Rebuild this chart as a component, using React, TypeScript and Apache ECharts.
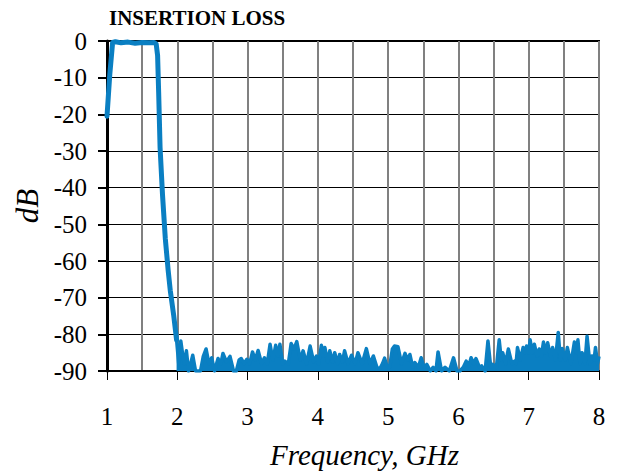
import React, { useEffect, useRef } from "react";
import * as echarts from "echarts";

const titleText = "INSERTION LOSS";
const xName = "Frequency, GHz";
const yName = "dB";

// Passband and roll-off (frequency in GHz, loss in dB)
const passFreq = [1.0, 1.04, 1.08, 1.12, 1.2, 1.3, 1.4, 1.5, 1.6, 1.67, 1.7, 1.72, 1.735, 1.755, 1.79, 1.83, 1.87, 1.9, 1.95, 1.99];
const passDb = [-20.5, -9, -0.4, -0.2, -0.5, -0.3, -0.6, -0.4, -0.5, -0.4, -0.8, -4, -14, -29, -42, -54, -62.5, -68, -75, -81.5];

// Stopband noise floor envelope
const noiseFreq = [
  1.99, 2.02, 2.05, 2.08, 2.1, 2.13, 2.16, 2.19, 2.22, 2.26, 2.33, 2.37, 2.41, 2.45, 2.49, 2.53, 2.58, 2.62, 2.65, 2.7,
  2.75, 2.8, 2.84, 2.88, 2.91, 2.95, 2.99, 3.03, 3.07, 3.11, 3.15, 3.2, 3.24, 3.28, 3.32, 3.36, 3.4, 3.43, 3.46, 3.5,
  3.53, 3.58, 3.62, 3.66, 3.7, 3.75, 3.79, 3.84, 3.89, 3.94, 3.98, 4.01, 4.05, 4.08, 4.1, 4.14, 4.17, 4.21, 4.24, 4.28,
  4.31, 4.35, 4.38, 4.43, 4.48, 4.53, 4.57, 4.63, 4.69, 4.74, 4.79, 4.84, 4.88, 4.92, 4.95, 4.98, 5.02, 5.06, 5.09, 5.14,
  5.19, 5.24, 5.28, 5.31, 5.35, 5.38, 5.43, 5.47, 5.51, 5.55, 5.6, 5.64, 5.68, 5.71, 5.76, 5.81, 5.87, 5.93, 5.98, 6.02,
  6.07, 6.11, 6.15, 6.18, 6.22, 6.25, 6.3, 6.33, 6.38, 6.42, 6.46, 6.49, 6.54, 6.58, 6.61, 6.63, 6.67, 6.71, 6.76, 6.8,
  6.82, 6.84, 6.88, 6.92, 6.95, 6.97, 7.0, 7.02, 7.05, 7.08, 7.12, 7.15, 7.18, 7.21, 7.24, 7.27, 7.31, 7.34, 7.38, 7.42,
  7.45, 7.48, 7.52, 7.55, 7.6, 7.65, 7.68, 7.7, 7.73, 7.76, 7.8, 7.83, 7.87, 7.9, 7.93, 7.95, 7.98, 8.0,
];
const noiseDb = [
  -81.5, -88, -81.8, -86, -88, -84.5, -90, -88, -85.7, -90, -90, -86, -84, -88, -86.4, -90, -86.6, -88, -85.2, -87.5,
  -86, -90, -90, -87, -86.6, -88, -86.8, -88, -84.8, -87, -84.4, -88, -86.4, -88, -82.7, -87, -83, -86, -82.7, -88,
  -87.3, -88, -82.5, -84, -82, -87, -84.5, -88, -83.2, -87.5, -85.9, -88, -83, -86, -83.6, -87.5, -84.5, -87.5, -85, -88,
  -85.5, -87.5, -84.5, -88, -85.7, -88, -85, -88, -83.9, -88, -85.9, -89, -89.5, -88, -86.5, -88.5, -89, -84, -83.2, -83.4,
  -88, -85.2, -87, -85.5, -89, -87.7, -89, -86.4, -89, -88.2, -90, -89, -90, -84.8, -90, -89, -90, -86.4, -90, -90,
  -89, -87.3, -88.5, -86.4, -88, -86.6, -89, -88.6, -90, -81.8, -89, -88.2, -89, -81.5, -87, -85, -88, -84, -88, -87.3,
  -88, -83.6, -87, -83.6, -85, -83.2, -85, -81.5, -85, -82.7, -86, -84, -86, -82.1, -85, -82.3, -86, -83.6, -87, -79.5,
  -87, -83.9, -87, -83.6, -88, -82.1, -85, -81.5, -88, -85, -88, -80.5, -88, -85.9, -87, -83.6, -88, -86,
];

const xMin = 1;
const xMax = 8;
const yMin = -90;
const yMax = 0;

const LINE_COLOR = "#0a7fc2";
const SERIF = "'Liberation Serif', 'Times New Roman', serif";

export default function App() {
  const ref = useRef<HTMLDivElement>(null);
  useEffect(() => {
    document.body.style.margin = "0";
    if (!ref.current) return;
    const chart = echarts.init(ref.current, undefined, { renderer: "svg" });
    chart.setOption({
      animation: false,
      title: {
        text: titleText,
        left: 104,
        top: 2,
        textStyle: { fontFamily: SERIF, fontWeight: "bold", fontSize: 21, color: "#000" },
      },
      graphic: [
        {
          type: "text",
          left: 270,
          top: 440,
          style: {
            text: xName,
            font: `italic 29px ${SERIF}`,
            fill: "#000",
          },
        },
      ],
      grid: {
        left: 107,
        right: 20,
        top: 41,
        bottom: 101,
        show: true,
        borderColor: "#000",
        borderWidth: 2,
        backgroundColor: "transparent",
      },
      xAxis: {
        type: "value",
        min: xMin,
        max: xMax,
        interval: 1,
        axisLine: { show: true, onZero: false, lineStyle: { color: "#000", width: 2 } },
        axisTick: { show: true, inside: false, length: 9, lineStyle: { color: "#000", width: 1 } },
        axisLabel: { margin: 33, fontFamily: SERIF, fontSize: 25, color: "#000" },
        splitLine: { show: true, lineStyle: { color: "#808080", width: 2 } },
        minorTick: { show: false, splitNumber: 2 },
        minorSplitLine: { show: true, lineStyle: { color: "#808080", width: 2 } },
      },
      yAxis: {
        type: "value",
        min: yMin,
        max: yMax,
        interval: 10,
        name: yName,
        nameLocation: "middle",
        nameGap: 62,
        nameTextStyle: { fontFamily: SERIF, fontStyle: "italic", fontSize: 31, color: "#000" },
        axisLine: { show: true, lineStyle: { color: "#000", width: 3 } },
        axisTick: { show: true, inside: false, length: 9, lineStyle: { color: "#000", width: 2 } },
        axisLabel: { margin: 20, fontFamily: SERIF, fontSize: 25, color: "#000" },
        splitLine: { show: true, lineStyle: { color: "#000", width: 1 } },
      },
      series: [
        {
          type: "line",
          data: passFreq.map((f, i) => [f, passDb[i]]),
          showSymbol: false,
          smooth: false,
          lineStyle: { color: LINE_COLOR, width: 5, join: "round", cap: "round" },
          clip: true,
          z: 3,
        },
        {
          type: "line",
          data: noiseFreq.map((f, i) => [f, noiseDb[i]]),
          showSymbol: false,
          smooth: false,
          lineStyle: { color: LINE_COLOR, width: 3.5, join: "round" },
          areaStyle: { color: LINE_COLOR, opacity: 1, origin: "start" },
          clip: true,
          z: 3,
        },
      ],
    });
    return () => chart.dispose();
  }, []);
  return <div ref={ref} style={{ width: 619, height: 472 }} />;
}
